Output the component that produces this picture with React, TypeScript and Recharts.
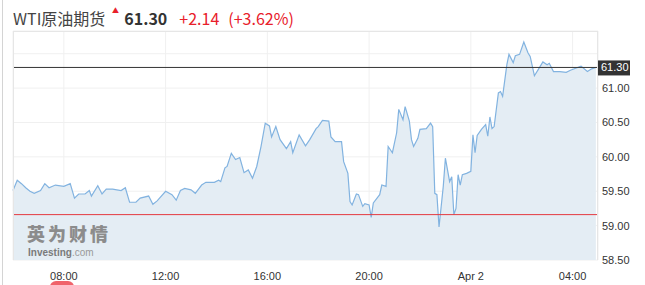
import React from 'react';
import { AreaChart, Area, XAxis, YAxis, CartesianGrid, ReferenceLine } from 'recharts';

// minutes since 00:00 on day one (1440 = Apr 2 00:00)
const times = [
  360, 370, 380, 390, 400, 410, 425, 435, 445, 460, 480, 495, 505, 515, 530, 540, 545, 560, 570, 580,
  595, 615, 625, 635, 650, 660, 680, 690, 700, 720, 735, 745, 755, 765, 780, 790, 805, 815, 835, 845,
  850, 860, 865, 875, 885, 895, 905, 915, 925, 935, 945, 955, 965, 970, 980, 990, 1005, 1015, 1020, 1035,
  1050, 1060, 1075, 1080, 1090, 1105, 1110, 1120, 1135, 1140, 1150, 1155, 1160, 1170, 1175, 1185, 1190, 1200, 1205, 1210,
  1225, 1230, 1240, 1245, 1255, 1265, 1270, 1280, 1285, 1295, 1300, 1305, 1315, 1320, 1335, 1345, 1350, 1355, 1360, 1365,
  1375, 1380, 1390, 1395, 1400, 1405, 1410, 1415, 1420, 1430, 1440, 1445, 1450, 1455, 1465, 1475, 1480, 1485, 1490, 1495,
  1505, 1510, 1515, 1525, 1530, 1540, 1545, 1555, 1565, 1575, 1580, 1590, 1600, 1610, 1620, 1625, 1635, 1650, 1665, 1675,
  1700, 1715, 1725, 1735,
];

const prices = [
  59.51, 59.66, 59.61, 59.55, 59.5, 59.47, 59.51, 59.61, 59.55, 59.59, 59.57, 59.61, 59.4, 59.46, 59.46, 59.51, 59.43, 59.58, 59.46, 59.53,
  59.53, 59.51, 59.55, 59.34, 59.34, 59.4, 59.43, 59.31, 59.36, 59.5, 59.45, 59.37, 59.51, 59.54, 59.52, 59.47, 59.59, 59.63, 59.63, 59.66,
  59.64, 59.84, 59.86, 60.05, 59.96, 59.99, 59.77, 59.81, 59.69, 59.86, 60.15, 60.49, 60.45, 60.29, 60.44, 60.25, 60.12, 60.22, 60.06, 60.32,
  60.16, 60.25, 60.41, 60.44, 60.53, 60.52, 60.29, 60.22, 60.22, 59.93, 59.76, 59.35, 59.3, 59.46, 59.45, 59.28, 59.32, 59.3, 59.12, 59.33,
  59.45, 59.59, 59.57, 60.15, 60.06, 60.35, 60.69, 60.54, 60.73, 60.52, 60.25, 60.15, 60.27, 60.4, 60.41, 60.49, 60.44, 59.47, 59.45, 58.98,
  59.57, 59.98, 59.64, 59.71, 59.16, 59.25, 59.74, 59.59, 59.74, 59.76, 59.79, 60.32, 60.06, 60.31, 60.4, 60.47, 60.3, 60.58, 60.41, 60.44,
  60.93, 60.95, 60.88, 61.34, 61.49, 61.37, 61.47, 61.49, 61.67, 61.51, 61.46, 61.18, 61.28, 61.38, 61.34, 61.36, 61.24, 61.24, 61.23, 61.26,
  61.32, 61.24, 61.28, 61.3,
];

const xTicks = [480, 720, 960, 1200, 1440, 1680];
const yTicks = [58.5, 59, 59.5, 60, 60.5, 61, 61.5];
const lastPrice = 61.3;
const prevClose = 59.16;

const data = times.map((t, i) => ({ t, price: prices[i] }));

const fmtTime = (m: number) => {
  if (m === 1440) return 'Apr 2';
  const h = Math.floor(m / 60) % 24;
  return `${String(h).padStart(2, '0')}:00`;
};

const YTick = (props: any) => {
  const { x, y, payload } = props;
  if (payload.value > 61.2) return null;
  return (
    <text x={x} y={y} dy={4} fill="#333" fontSize={11} fontFamily="Liberation Sans, Arial" textAnchor="start">
      {payload.value.toFixed(2)}
    </text>
  );
};

const PriceTag = (props: any) => {
  const { viewBox } = props;
  const x = viewBox.x + viewBox.width;
  const y = viewBox.y;
  return (
    <g>
      <rect x={x} y={y - 7} width={32} height={15} fill="#333" />
      <text x={x + 3} y={y + 4} fill="#fff" fontSize={11} fontFamily="Liberation Sans, Arial">
        {lastPrice.toFixed(2)}
      </text>
    </g>
  );
};

export default function App() {
  return (
    <div style={{ position: 'absolute', left: 0, top: 0, width: 645, height: 285, overflow: 'hidden', background: '#fff' }}>
      <div style={{ position: 'absolute', left: 2, top: 0, width: 1, height: 285, background: '#d4d4d4' }} />
      <div
        style={{
          position: 'absolute',
          left: 13,
          top: 6,
          fontFamily: '"Noto Sans CJK SC", "Noto Sans", sans-serif',
          fontSize: 16,
          lineHeight: '24px',
          whiteSpace: 'nowrap',
        }}
      >
        <span style={{ color: '#444' }}>WTI原油期货</span>
        <span style={{ position: 'absolute', left: 99, top: -8, color: '#e8202a', fontSize: 7 }}>▲</span>
        <span style={{ color: '#333', fontWeight: 700, marginLeft: 19 }}>61.30</span>
        <span style={{ color: '#e8202a', marginLeft: 12 }}>+2.14</span>
        <span style={{ color: '#e8202a', marginLeft: 9 }}>(+3.62%)</span>
      </div>

      <AreaChart width={645} height={285} data={data} margin={{ top: 31, right: 0, bottom: 0, left: 13 }}>
        <CartesianGrid stroke="#f0f0f0" strokeWidth={1} />
        <XAxis
          dataKey="t"
          type="number"
          domain={[360, 1740]}
          ticks={xTicks}
          tickFormatter={fmtTime}
          axisLine={false}
          tickLine={false}
          tickSize={0}
          tickMargin={12}
          height={25}
          tick={{ fill: '#333', fontSize: 11, fontFamily: 'Liberation Sans, Arial' }}
        />
        <YAxis
          orientation="right"
          type="number"
          domain={[58.5, 61.83]}
          ticks={yTicks}
          width={47}
          axisLine={false}
          tickLine={false}
          tickSize={0}
          tickMargin={4}
          tick={<YTick />}
        />
        <Area
          type="linear"
          dataKey="price"
          stroke="#82b3e0"
          strokeWidth={1.2}
          fill="#e4edf4"
          fillOpacity={1}
          isAnimationActive={false}
          dot={false}
          activeDot={false}
        />
        <ReferenceLine y={prevClose} stroke="#e53a3f" strokeWidth={1} />
        <ReferenceLine y={lastPrice} stroke="#333" strokeWidth={1} label={<PriceTag />} />
      </AreaChart>

      <div
        style={{
          position: 'absolute',
          left: 13,
          top: 31,
          width: 585,
          height: 229,
          boxSizing: 'border-box',
          borderTop: '1px solid #e6e6e6',
          borderLeft: '1px solid #e6e6e6',
          borderRight: '1px solid #e6e6e6',
          pointerEvents: 'none',
        }}
      />

      <div
        style={{
          position: 'absolute',
          left: 27,
          top: 224,
          fontFamily: '"Noto Sans CJK SC", sans-serif',
          fontWeight: 900,
          fontSize: 18,
          lineHeight: '19px',
          color: '#8c8c8c',
          letterSpacing: 3,
          whiteSpace: 'nowrap',
          pointerEvents: 'none',
        }}
      >
        英为财情
      </div>
      <div
        style={{
          position: 'absolute',
          left: 28,
          top: 248,
          fontFamily: 'Liberation Sans, Arial',
          fontSize: 10,
          lineHeight: '10px',
          whiteSpace: 'nowrap',
          pointerEvents: 'none',
        }}
      >
        <span style={{ color: '#7a7a7a', fontWeight: 700 }}>Investing</span>
        <span style={{ color: '#9a9a9a' }}>.com</span>
      </div>

      <div style={{ position: 'absolute', left: 50, top: 281, width: 24, height: 12, borderRadius: 6, background: '#f0636b' }} />
    </div>
  );
}
